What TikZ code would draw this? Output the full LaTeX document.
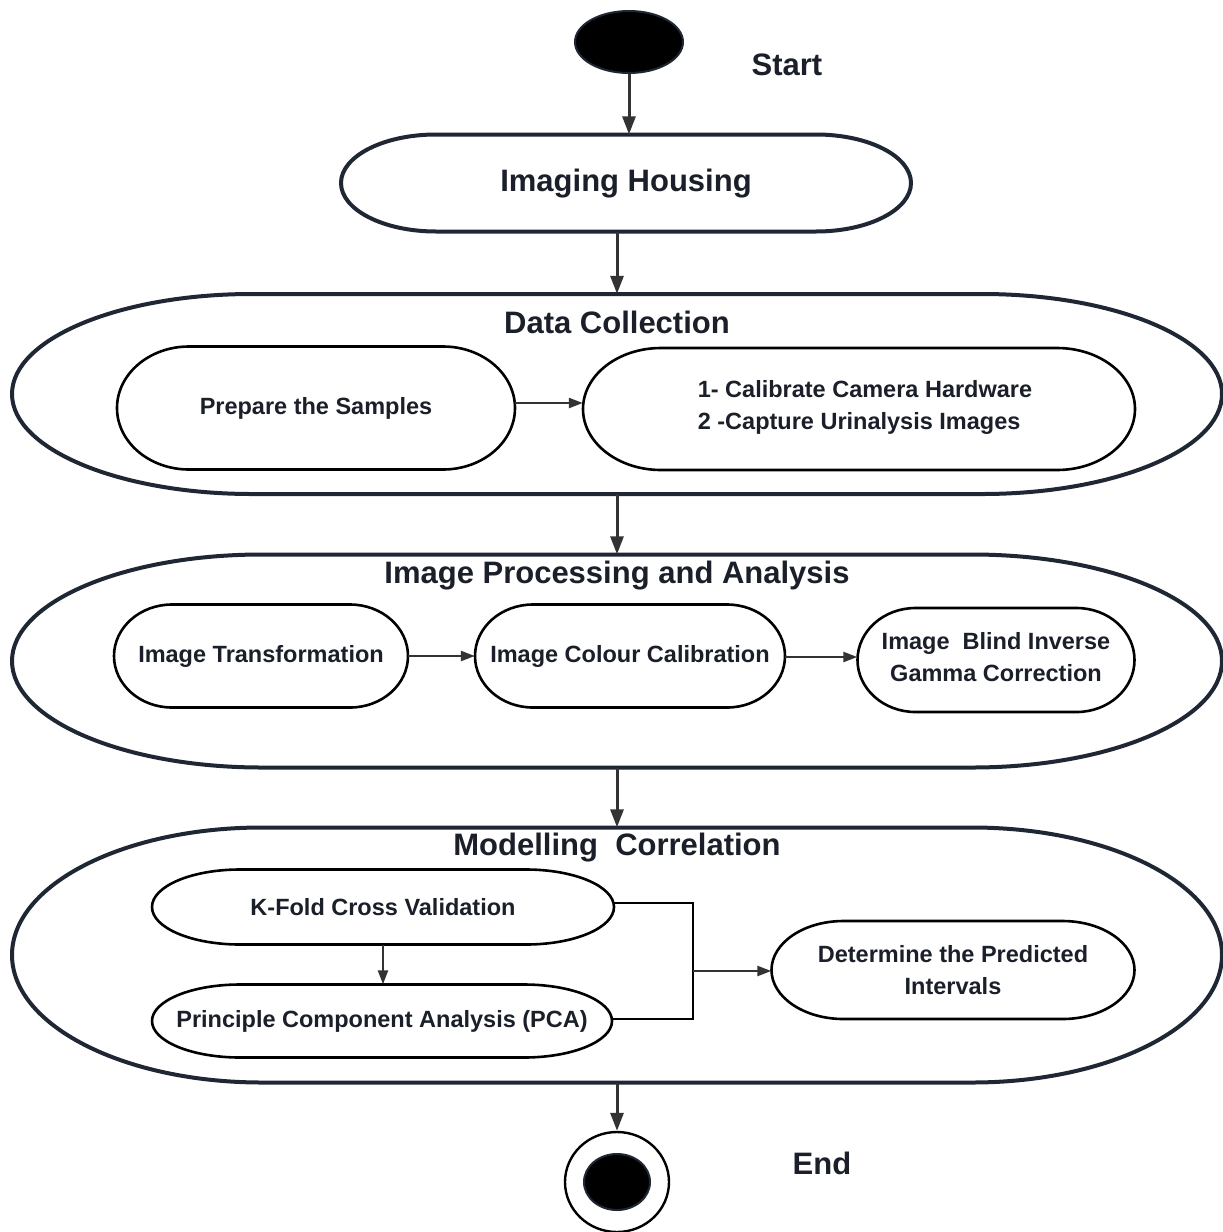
\documentclass[tikz,border=0pt]{standalone}
\usepackage{fontspec}
\setmainfont{Liberation Sans}
\usetikzlibrary{arrows.meta,shapes.geometric,calc}
\definecolor{outerc}{HTML}{1E2733}
\definecolor{txtc}{HTML}{1A1F29}
\definecolor{arrc}{HTML}{333333}
\newcommand{\capsule}[8]{% #1 style, #2 name, #3 cx, #4 cy, #5 w, #6 h, #7 a, #8 text
  \pgfmathsetmacro\capL{#3-#5/2+#7}\pgfmathsetmacro\capR{#3+#5/2-#7}%
  \pgfmathsetmacro\capT{#4+#6/2}\pgfmathsetmacro\capB{#4-#6/2}\pgfmathsetmacro\capH{#6/2}%
  \draw[#1] (\capL,\capT) -- (\capR,\capT) arc[start angle=90,end angle=-90,x radius=#7,y radius=\capH]
     -- (\capL,\capB) arc[start angle=270,end angle=90,x radius=#7,y radius=\capH] -- cycle;
  \node[minimum width=#5, minimum height=#6, inner sep=0pt, text=txtc, font=\bodyfont, align=center] (#2) at (#3,#4) {#8};}
\newcommand{\bodyfont}{\bfseries\fontsize{23.5}{32}\selectfont}
\newcommand{\titlefont}{\bfseries\fontsize{31}{36}\selectfont}
\tikzset{
  outerbox/.style={draw=outerc, line width=4pt, fill=white},
  innerbox/.style={draw=black, line width=2.6pt, fill=white},
  mainarrow/.style={draw=arrc, line width=3pt, -{Triangle[length=18pt,width=13pt]}},
  subarrow/.style={draw=arrc, line width=2.4pt, -{Triangle[length=14pt,width=10pt]}},
  bracket/.style={draw=black, line width=2.6pt},
  titletext/.style={text=txtc, font=\titlefont, inner sep=0pt}
}
\begin{document}
\begin{tikzpicture}[x=1pt,y=1pt]
\useasboundingbox[fill=white] (0,0) rectangle (1223,-1232);

% start
\node[ellipse, fill=black, draw=outerc, line width=2pt, minimum width=108, minimum height=62, inner sep=0pt] (start) at (629,-42) {};
\node[titletext] (startlbl) at (787,-65) {Start};

% imaging housing
\capsule{outerbox}{ih}{626}{-183}{570}{97}{95}{}
\node[titletext] (ihlbl) at ($(ih)+(0,-1)$) {Imaging Housing};

% data collection
\capsule{outerbox}{dc}{617}{-394}{1210}{200}{240}{}
\node[titletext] (dclbl) at (617,-322) {Data Collection};
\capsule{innerbox}{prep}{316}{-408}{398}{123}{72}{Prepare the Samples}
\capsule{innerbox}{cal}{859}{-409}{552}{122}{78}{}
\node[text=txtc, font=\bodyfont, align=left, inner sep=0pt] (caltxt) at (865,-407) {1- Calibrate Camera Hardware\\2 -Capture Urinalysis Images};

% image processing
\capsule{outerbox}{ip}{617}{-661}{1210}{213}{250}{}
\node[titletext] (iplbl) at (617,-576) {Image Processing and Analysis};
\capsule{innerbox}{it}{261}{-656}{294}{103}{58}{Image Transformation}
\capsule{innerbox}{icc}{630}{-656}{310}{103}{58}{Image Colour Calibration}
\capsule{innerbox}{ibi}{996}{-660}{277}{104}{58}{}
\node[text=txtc, font=\bodyfont, align=center, inner sep=0pt] (ibitxt) at (996,-657) {Image\ \ Blind Inverse\\Gamma Correction};

% modelling correlation
\capsule{outerbox}{mc}{617}{-955}{1210}{255}{250}{}
\node[titletext] (mclbl) at (617,-848) {Modelling\ \ Correlation};
\capsule{innerbox}{kf}{383}{-907}{462}{75}{88}{K-Fold Cross Validation}
\capsule{innerbox}{pca}{382}{-1021}{460}{73}{88}{Principle Component Analysis (PCA)}
\capsule{innerbox}{det}{953}{-970}{363}{98}{72}{Determine the Predicted\\Intervals}
\coordinate (j) at (693,-971);

% end
\node[ellipse, draw=black, line width=2.4pt, fill=white, minimum width=104, minimum height=100, inner sep=0pt] (end) at (617,-1182) {};
\node[ellipse, fill=black, draw=outerc, line width=2pt, minimum width=66, minimum height=56, inner sep=0pt] (endin) at (end) {};
\node[titletext] (endlbl) at (822,-1163) {End};

% connectors
\draw[mainarrow] (start.south) -- (start.south |- ih.north);
\draw[mainarrow] (ih.south -| dc.north) -- (dc.north);
\draw[mainarrow] (dc.south) -- (ip.north);
\draw[mainarrow] (ip.south) -- (mc.north);
\draw[mainarrow] (mc.south) -- (end.north);
\draw[subarrow] ($(prep.east)+(0,5)$) -- ($(cal.west)+(0,6)$);
\draw[subarrow] (it.east) -- (icc.west);
\draw[subarrow] ($(icc.east)+(0,-1)$) -- ($(ibi.west)+(0,3)$);
\draw[subarrow] (kf.south) -- (kf.south |- pca.north);
\draw[bracket] ($(kf.east)+(0,4)$) -| (j);
\draw[bracket] ($(pca.east)+(0,2)$) -| (j);
\draw[subarrow] (j) -- (j -| det.west);
\end{tikzpicture}
\end{document}
